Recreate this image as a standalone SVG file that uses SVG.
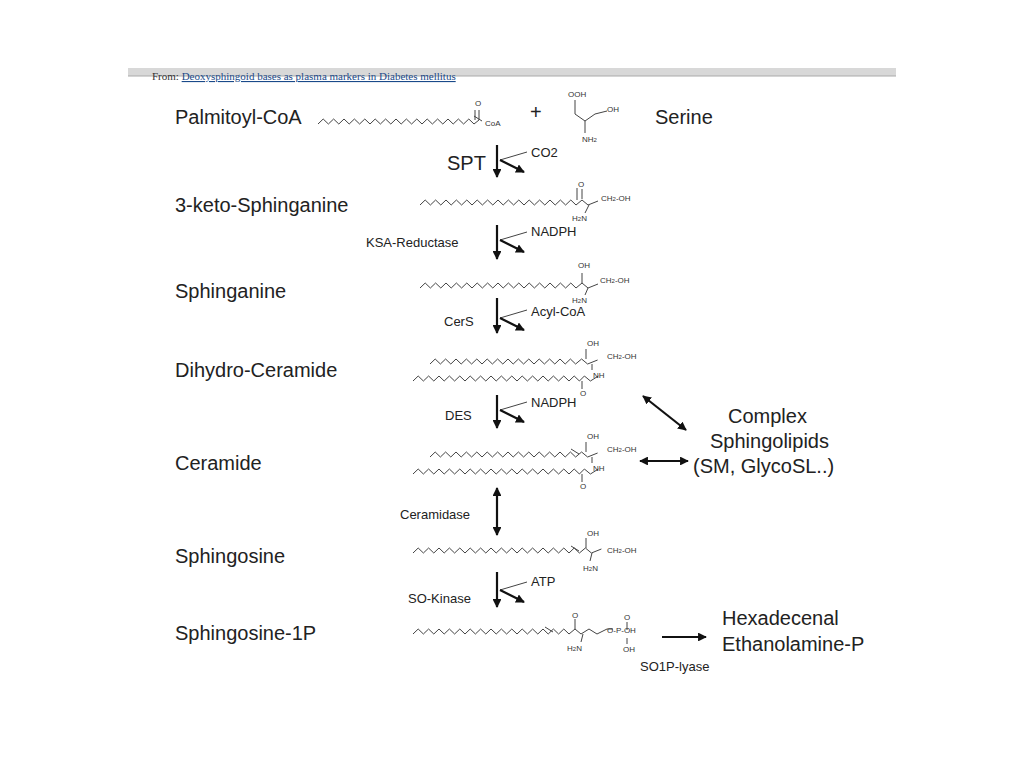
<svg xmlns="http://www.w3.org/2000/svg" width="1024" height="768" viewBox="0 0 1024 768">
<defs>
<style>
.lb{font-family:"Liberation Sans",Arial,sans-serif;font-size:20px;fill:#222}
.en{font-family:"Liberation Sans",Arial,sans-serif;font-size:13px;fill:#222}
.at{font-family:"Liberation Sans",Arial,sans-serif;font-size:8px;fill:#333}
.ch{fill:none;stroke:#444;stroke-width:1}
.ar{fill:none;stroke:#111;stroke-width:2.2}
</style>
<marker id="ah" viewBox="0 0 10 10" refX="9" refY="5" markerWidth="4" markerHeight="4" orient="auto-start-reverse"><path d="M0,0L10,5L0,10z" fill="#111"/></marker>
</defs>
<rect width="1024" height="768" fill="#fff"/>
<g id="header">
<rect x="128" y="68" width="768" height="8" fill="#d8d8d8"/>
<line x1="128" y1="76" x2="896" y2="76" stroke="#aaa"/>
<text x="152" y="80" font-family="Liberation Serif,serif" font-size="11" fill="#333">From: <tspan fill="#1a4a8a" text-decoration="underline">Deoxysphingoid bases as plasma markers in Diabetes mellitus</tspan></text>
<rect x="128" y="60" width="768" height="8" fill="#fff"/>
</g>
<g id="palmitoyl">
<text class="lb" x="175" y="124">Palmitoyl-CoA</text>
<path class="ch" d="M318,124 l5.2,-5 5.2,5 5.2,-5 5.2,5 5.2,-5 5.2,5 5.2,-5 5.2,5 5.2,-5 5.2,5 5.2,-5 5.2,5 5.2,-5 5.2,5 5.2,-5 5.2,5 5.2,-5 5.2,5 5.2,-5 5.2,5 5.2,-5 5.2,5 5.2,-5 5.2,5 5.2,-5 5.2,5 5.2,-5 5.2,5 5.2,-5 5.2,5 l5,-4 l0,-10 M475,120 l0,-10 M474,116 l8,5"/>
<text class="at" x="475" y="106">O</text>
<text class="at" x="485" y="126">CoA</text>
<text class="lb" x="530" y="119">+</text>
</g>
<g id="serine">
<text class="at" x="568" y="97">OOH</text>
<path class="ch" d="M575,100 l0,14 l10,7 l10,-7 l12,-3 M585,121 l0,12"/>
<text class="at" x="607" y="112">OH</text>
<text class="at" x="582" y="142">NH<tspan font-size="6">2</tspan></text>
<text class="lb" x="655" y="124">Serine</text>
</g>
<g id="keto">
<text class="lb" x="175" y="212">3-keto-Sphinganine</text>
<path class="ch" d="M420,205 l5.2,-5 5.2,5 5.2,-5 5.2,5 5.2,-5 5.2,5 5.2,-5 5.2,5 5.2,-5 5.2,5 5.2,-5 5.2,5 5.2,-5 5.2,5 5.2,-5 5.2,5 5.2,-5 5.2,5 5.2,-5 5.2,5 5.2,-5 5.2,5 5.2,-5 5.2,5 5.2,-5 5.2,5 5.2,-5 5.2,5 5.2,-5 5.2,5 l6,-5 l6,5 l10,-4 M577,200 l0,-12 M582,199 l0,-10 M589,205 l-4,8"/>
<text class="at" x="578" y="187">O</text>
<text class="at" x="601" y="201">CH<tspan font-size="6">2</tspan>-OH</text>
<text class="at" x="572" y="221">H<tspan font-size="6">2</tspan>N</text>
</g>
<g id="sphinganine">
<text class="lb" x="175" y="298">Sphinganine</text>
<path class="ch" d="M420,288 l5.2,-5 5.2,5 5.2,-5 5.2,5 5.2,-5 5.2,5 5.2,-5 5.2,5 5.2,-5 5.2,5 5.2,-5 5.2,5 5.2,-5 5.2,5 5.2,-5 5.2,5 5.2,-5 5.2,5 5.2,-5 5.2,5 5.2,-5 5.2,5 5.2,-5 5.2,5 5.2,-5 5.2,5 5.2,-5 5.2,5 5.2,-5 5.2,5 l6,-5 l6,5 l10,-4 M582,283 l0,-10 M588,288 l-3,7"/>
<text class="at" x="578" y="268">OH</text>
<text class="at" x="600" y="283">CH<tspan font-size="6">2</tspan>-OH</text>
<text class="at" x="572" y="303">H<tspan font-size="6">2</tspan>N</text>
</g>
<g id="dihydroceramide">
<text class="lb" x="175" y="377">Dihydro-Ceramide</text>
<path class="ch" d="M430,364 l5.2,-5 5.2,5 5.2,-5 5.2,5 5.2,-5 5.2,5 5.2,-5 5.2,5 5.2,-5 5.2,5 5.2,-5 5.2,5 5.2,-5 5.2,5 5.2,-5 5.2,5 5.2,-5 5.2,5 5.2,-5 5.2,5 5.2,-5 5.2,5 5.2,-5 5.2,5 5.2,-5 5.2,5 5.2,-5 5.2,5 l6,-5 l6,5 l10,-4 M586,359 l0,-10 M592,364 l0,6"/>
<path class="ch" d="M413,381 l5.2,-5 5.2,5 5.2,-5 5.2,5 5.2,-5 5.2,5 5.2,-5 5.2,5 5.2,-5 5.2,5 5.2,-5 5.2,5 5.2,-5 5.2,5 5.2,-5 5.2,5 5.2,-5 5.2,5 5.2,-5 5.2,5 5.2,-5 5.2,5 5.2,-5 5.2,5 5.2,-5 5.2,5 5.2,-5 5.2,5 5.2,-5 5.2,5 5.2,-5 5.2,5 l5,-5 l6,5 l8,-5 M582,381 l0,8"/>
<text class="at" x="587" y="346">OH</text>
<text class="at" x="607" y="359">CH<tspan font-size="6">2</tspan>-OH</text>
<text class="at" x="593" y="378">NH</text>
<text class="at" x="580" y="396">O</text>
</g>
<g id="ceramide">
<text class="lb" x="175" y="470">Ceramide</text>
<path class="ch" d="M430,457 l5.2,-5 5.2,5 5.2,-5 5.2,5 5.2,-5 5.2,5 5.2,-5 5.2,5 5.2,-5 5.2,5 5.2,-5 5.2,5 5.2,-5 5.2,5 5.2,-5 5.2,5 5.2,-5 5.2,5 5.2,-5 5.2,5 5.2,-5 5.2,5 5.2,-5 5.2,5 5.2,-5 5.2,5 5.2,-5 5.2,5 l6,-5 l6,5 l10,-4 M571,449 l8,5 M586,452 l0,-10 M592,457 l0,6"/>
<path class="ch" d="M413,474 l5.2,-5 5.2,5 5.2,-5 5.2,5 5.2,-5 5.2,5 5.2,-5 5.2,5 5.2,-5 5.2,5 5.2,-5 5.2,5 5.2,-5 5.2,5 5.2,-5 5.2,5 5.2,-5 5.2,5 5.2,-5 5.2,5 5.2,-5 5.2,5 5.2,-5 5.2,5 5.2,-5 5.2,5 5.2,-5 5.2,5 5.2,-5 5.2,5 5.2,-5 5.2,5 l5,-5 l6,5 l8,-5 M582,474 l0,8"/>
<text class="at" x="587" y="439">OH</text>
<text class="at" x="607" y="452">CH<tspan font-size="6">2</tspan>-OH</text>
<text class="at" x="593" y="471">NH</text>
<text class="at" x="580" y="489">O</text>
</g>
<g id="sphingosine">
<text class="lb" x="175" y="563">Sphingosine</text>
<path class="ch" d="M413,553 l5.2,-5 5.2,5 5.2,-5 5.2,5 5.2,-5 5.2,5 5.2,-5 5.2,5 5.2,-5 5.2,5 5.2,-5 5.2,5 5.2,-5 5.2,5 5.2,-5 5.2,5 5.2,-5 5.2,5 5.2,-5 5.2,5 5.2,-5 5.2,5 5.2,-5 5.2,5 5.2,-5 5.2,5 5.2,-5 5.2,5 5.2,-5 5.2,5 5.2,-5 5.2,5 l6,-5 l6,5 l10,-4 M571,546 l8,5 M586,548 l0,-10 M592,553 l-2,8"/>
<text class="at" x="587" y="536">OH</text>
<text class="at" x="607" y="553">CH<tspan font-size="6">2</tspan>-OH</text>
<text class="at" x="583" y="571">H<tspan font-size="6">2</tspan>N</text>
</g>
<g id="s1p">
<text class="lb" x="175" y="640">Sphingosine-1P</text>
<path class="ch" d="M413,634 l5.2,-5 5.2,5 5.2,-5 5.2,5 5.2,-5 5.2,5 5.2,-5 5.2,5 5.2,-5 5.2,5 5.2,-5 5.2,5 5.2,-5 5.2,5 5.2,-5 5.2,5 5.2,-5 5.2,5 5.2,-5 5.2,5 5.2,-5 5.2,5 5.2,-5 5.2,5 5.2,-5 5.2,5 5.2,-5 5.2,5 5.2,-5 5.2,5 l6,-5 l6,5 l8,-5 l8,5 l10,-5 l6,0 M545,627 l8,5 M575,629 l0,-10 M583,634 l-2,8 M627,622 l0,8 M627,638 l0,6"/>
<text class="at" x="572" y="618">O</text>
<text class="at" x="607" y="633">O-P-OH</text>
<text class="at" x="624" y="620">O</text>
<text class="at" x="623" y="652">OH</text>
<text class="at" x="567" y="651">H<tspan font-size="6">2</tspan>N</text>
</g>
<g id="complex">
<text class="lb" x="728" y="423">Complex</text>
<text class="lb" x="710" y="448">Sphingolipids</text>
<text class="lb" x="693" y="473">(SM, GlycoSL..)</text>
</g>
<g id="hexadecenal">
<text class="lb" x="722" y="625">Hexadecenal</text>
<text class="lb" x="722" y="651">Ethanolamine-P</text>
</g>
<g id="connectors">
<line class="ar" x1="497" y1="145" x2="497" y2="177" marker-end="url(#ah)"/>
<path class="ch" stroke-width="1.5" d="M500,160 L527,152"/><line class="ar" stroke-width="1.5" x1="500" y1="160" x2="524" y2="172" marker-end="url(#ah)"/>
<text class="lb" x="447" y="170">SPT</text><text class="en" font-size="11" x="531" y="157">CO2</text>

<line class="ar" x1="497" y1="225" x2="497" y2="259" marker-end="url(#ah)"/>
<path class="ch" stroke-width="1.5" d="M500,240 L527,232"/><line class="ar" stroke-width="1.5" x1="500" y1="240" x2="524" y2="252" marker-end="url(#ah)"/>
<text class="en" x="366" y="247">KSA-Reductase</text><text class="en" font-size="11" x="531" y="236">NADPH</text>

<line class="ar" x1="497" y1="298" x2="497" y2="333" marker-end="url(#ah)"/>
<path class="ch" stroke-width="1.5" d="M500,318 L527,310"/><line class="ar" stroke-width="1.5" x1="500" y1="318" x2="524" y2="330" marker-end="url(#ah)"/>
<text class="en" x="444" y="326">CerS</text><text class="en" font-size="11" x="531" y="316">Acyl-CoA</text>

<line class="ar" x1="497" y1="395" x2="497" y2="428" marker-end="url(#ah)"/>
<path class="ch" stroke-width="1.5" d="M500,410 L527,402"/><line class="ar" stroke-width="1.5" x1="500" y1="410" x2="524" y2="422" marker-end="url(#ah)"/>
<text class="en" x="445" y="420">DES</text><text class="en" font-size="11" x="531" y="407">NADPH</text>

<line class="ar" x1="497" y1="488" x2="497" y2="535" marker-start="url(#ah)" marker-end="url(#ah)"/>
<text class="en" x="400" y="519">Ceramidase</text>

<line class="ar" x1="497" y1="572" x2="497" y2="607" marker-end="url(#ah)"/>
<path class="ch" stroke-width="1.5" d="M500,590 L527,582"/><line class="ar" stroke-width="1.5" x1="500" y1="590" x2="524" y2="602" marker-end="url(#ah)"/>
<text class="en" x="408" y="603">SO-Kinase</text><text class="en" font-size="11" x="531" y="586">ATP</text>

<line class="ar" stroke-width="1.5" x1="643" y1="396" x2="686" y2="430" marker-start="url(#ah)" marker-end="url(#ah)"/>
<line class="ar" x1="640" y1="461" x2="688" y2="461" marker-start="url(#ah)" marker-end="url(#ah)"/>
<line class="ar" x1="662" y1="637" x2="706" y2="637" marker-end="url(#ah)"/>
<text class="en" x="640" y="671">SO1P-lyase</text>
</g>
</svg>
